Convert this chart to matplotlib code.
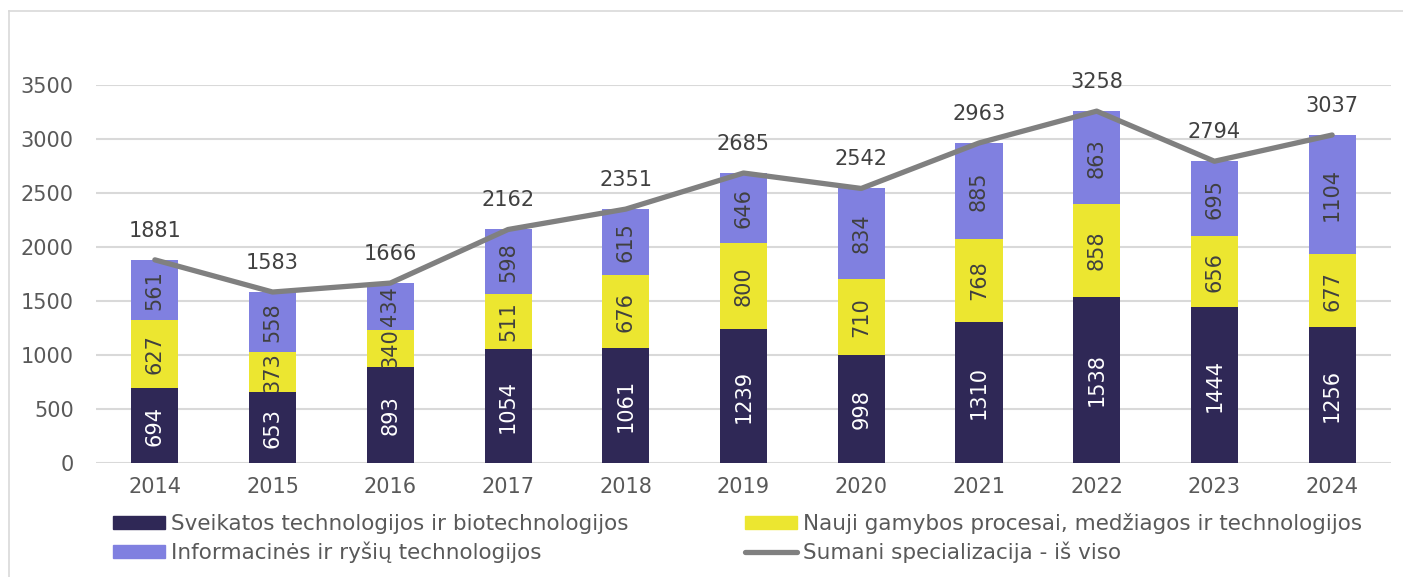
import numpy as np
import matplotlib.pyplot as plt
from matplotlib.patches import Rectangle
from matplotlib.lines import Line2D

years = ['2014', '2015', '2016', '2017', '2018', '2019', '2020', '2021', '2022', '2023', '2024']
sveikatos = [694, 653, 893, 1054, 1061, 1239, 998, 1310, 1538, 1444, 1256]
gamybos = [627, 373, 340, 511, 676, 800, 710, 768, 858, 656, 677]
informacines = [561, 558, 434, 598, 615, 646, 834, 885, 863, 695, 1104]
viso = [1881, 1583, 1666, 2162, 2351, 2685, 2542, 2963, 3258, 2794, 3037]

names = ['Sveikatos technologijos ir biotechnologijos',
         'Nauji gamybos procesai, medžiagos ir technologijos',
         'Informacinės ir ryšių technologijos',
         'Sumani specializacija - iš viso']

C_NAVY = '#2f2856'
C_YEL = '#ece630'
C_LAV = '#8080e0'
C_LINE = '#808080'
C_TXT = '#404040'
C_GRID = '#d9d9d9'

plt.rcParams['font.family'] = 'DejaVu Sans'
FS = 15

fig = plt.figure(figsize=(14.03, 5.77), dpi=100)
# outer frame: only the left and top edges lie inside the canvas
fx, fy = 8.5 / 1403, 1 - 10.5 / 577
fig.add_artist(Line2D([fx, fx], [0, fy], transform=fig.transFigure, color=C_GRID, linewidth=1.2))
fig.add_artist(Line2D([fx, 1], [fy, fy], transform=fig.transFigure, color=C_GRID, linewidth=1.2))
ax = fig.add_axes([96 / 1403, 114 / 577, 1295 / 1403, 378 / 577])

x = np.arange(len(years))
w = 0.4
s = np.array(sveikatos)
g = np.array(gamybos)
inf = np.array(informacines)

b1 = ax.bar(x, s, w, color=C_NAVY, zorder=2)
b2 = ax.bar(x, g, w, bottom=s, color=C_YEL, zorder=2)
b3 = ax.bar(x, inf, w, bottom=s + g, color=C_LAV, zorder=2)

for bars, vals, col in [(b1, s, 'white'), (b2, g, C_TXT), (b3, inf, C_TXT)]:
    for r, v in zip(bars, vals):
        ax.text(r.get_x() + r.get_width() / 2, r.get_y() + r.get_height() / 2, str(v),
                rotation=90, ha='center', va='center', color=col, fontsize=FS, zorder=4)

ax.plot(x, viso, color=C_LINE, linewidth=3.8, solid_capstyle='round', zorder=3)
for xi, v in zip(x, viso):
    ax.annotate(str(v), (xi, v), xytext=(0, 21), textcoords='offset points',
                ha='center', va='center', color=C_TXT, fontsize=FS, annotation_clip=False)

ax.set_xlim(-0.5, len(years) - 0.5)
ax.set_ylim(0, 3500)
ax.set_yticks(range(0, 3501, 500))
ax.set_xticks(x)
ax.set_xticklabels(years)
ax.tick_params(length=0, labelsize=FS, labelcolor='#595959')
ax.tick_params(axis='y', pad=16)
ax.tick_params(axis='x', pad=10)
ax.grid(axis='y', color=C_GRID, linewidth=1.5, zorder=0)
for sp in ax.spines.values():
    sp.set_visible(False)

handles = [Rectangle((0, 0), 1, 1, color=C_NAVY),
           Rectangle((0, 0), 1, 1, color=C_LAV),
           Rectangle((0, 0), 1, 1, color=C_YEL),
           Line2D([0], [0], color=C_LINE, linewidth=3.8, solid_capstyle='round')]
labels = [names[0], names[2], names[1], names[3]]
leg = fig.legend(handles, labels, ncol=2, loc='upper left', bbox_to_anchor=(113 / 1403, 1 - 513 / 577),
                 frameon=False, fontsize=15.5, handlelength=2.4, handleheight=0.6, handletextpad=0.3,
                 columnspacing=5.4, labelspacing=0.35, borderpad=0, borderaxespad=0)
for t in leg.get_texts():
    t.set_color('#595959')

fig.savefig('out.png', dpi=100)
